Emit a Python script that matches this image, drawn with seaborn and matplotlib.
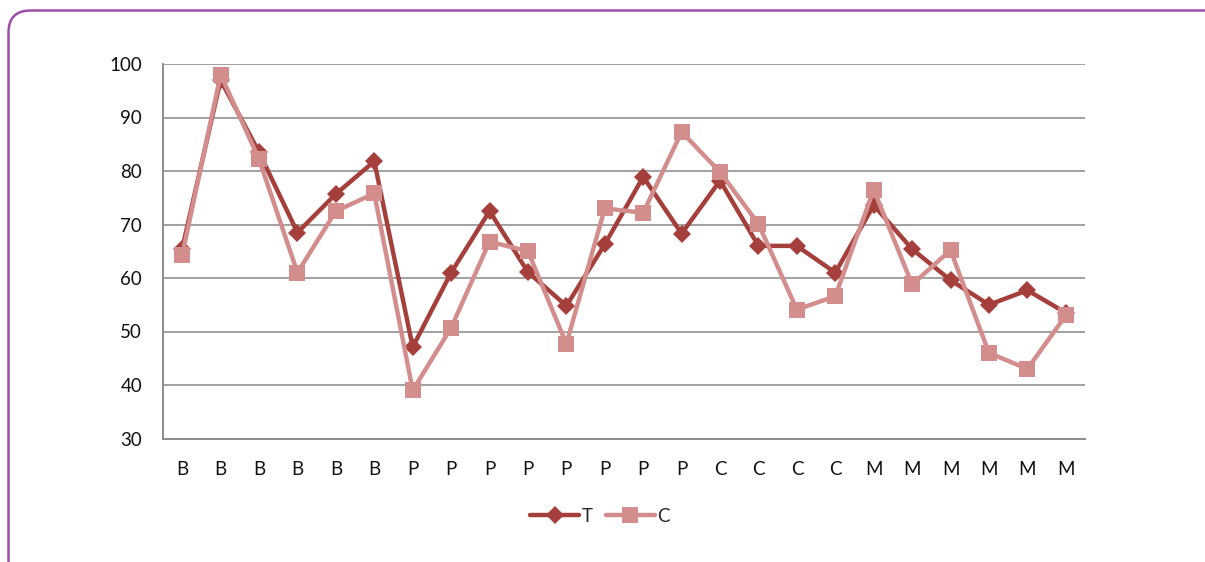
import matplotlib
matplotlib.use("Agg")
import matplotlib.pyplot as plt
from matplotlib.patches import FancyBboxPatch
from matplotlib.transforms import IdentityTransform
from matplotlib.lines import Line2D
import seaborn as sns
import pandas as pd

# Group label of each observation
categories = ["B", "B", "B", "B", "B", "B",
              "P", "P", "P", "P", "P", "P", "P", "P",
              "C", "C", "C", "C",
              "M", "M", "M", "M", "M", "M"]

# Series values
t_values = [65.5, 97.0, 83.5, 68.5, 75.7, 81.8,
            47.1, 61.0, 72.5, 61.1, 54.8, 66.3, 78.9, 68.3,
            78.2, 66.0, 66.0, 61.0,
            73.6, 65.4, 59.6, 55.0, 57.7, 53.5]
c_values = [64.3, 98.0, 82.2, 61.0, 72.5, 75.8,
            39.0, 50.7, 66.8, 65.0, 47.7, 73.0, 72.2, 87.3,
            79.8, 70.1, 54.1, 56.6,
            76.5, 58.8, 65.2, 46.0, 43.0, 53.0]

series_names = ["T", "C"]
y_ticks = [30, 40, 50, 60, 70, 80, 90, 100]

positions = list(range(len(categories)))
df = pd.DataFrame({
    "pos": positions * 2,
    "value": t_values + c_values,
    "series": [series_names[0]] * len(t_values) + [series_names[1]] * len(c_values),
})

sns.set_theme(style="white")
plt.rcParams["font.family"] = ["Lato", "DejaVu Sans"]

fig = plt.figure(figsize=(12.05, 5.62), dpi=100)
ax = fig.add_axes([163 / 1205, 1 - 438.5 / 562, (1085 - 163) / 1205, (438.5 - 64) / 562])

dark = "#A53F3C"
light = "#D38D8D"
t_ms, c_ms = 9.0, 12.0
sns.lineplot(
    data=df, x="pos", y="value", hue="series", style="series",
    palette={"T": dark, "C": light},
    markers={"T": "D", "C": "s"}, dashes=False,
    linewidth=3.2, markeredgewidth=0, ax=ax, legend=False,
)
# marker sizes per series
for line, ms in zip(ax.get_lines(), [t_ms, c_ms]):
    line.set_markersize(ms)

ax.set_xlim(-0.5, len(categories) - 0.5)
ax.set_ylim(30, 100)
ax.set_yticks(y_ticks)
ax.set_xticks(positions)
ax.set_xticklabels(categories)
ax.set_xlabel("")
ax.set_ylabel("")
ax.yaxis.grid(True, color="#9A9A9A", linewidth=1.3)
ax.set_axisbelow(True)
for side in ["top", "right"]:
    ax.spines[side].set_visible(False)
for side in ["left", "bottom"]:
    ax.spines[side].set_color("#8C8C8C")
    ax.spines[side].set_linewidth(1.4)
ax.tick_params(axis="both", length=0, labelsize=13.5, colors="#111111")
ax.tick_params(axis="y", pad=15)
ax.tick_params(axis="x", pad=16)

handles = [
    Line2D([], [], color=dark, marker="D", markersize=t_ms, linewidth=3.2, markeredgewidth=0),
    Line2D([], [], color=light, marker="s", markersize=c_ms, linewidth=3.2, markeredgewidth=0),
]
fig.legend(handles, series_names, loc="center", bbox_to_anchor=(600 / 1205, 1 - 516 / 562),
           ncol=2, frameon=False, fontsize=13.5, handlelength=2.6, handletextpad=0.15,
           columnspacing=0.7)

# rounded outer frame
frame = FancyBboxPatch((8.5, -20), 1230, 562 - 10 - (-20) - 0.5,
                       boxstyle="round,pad=0,rounding_size=22",
                       transform=IdentityTransform(), fill=False,
                       edgecolor="#9C4FA6", linewidth=1.8)
fig.patches.append(frame)

fig.savefig("out.png", dpi=100)
